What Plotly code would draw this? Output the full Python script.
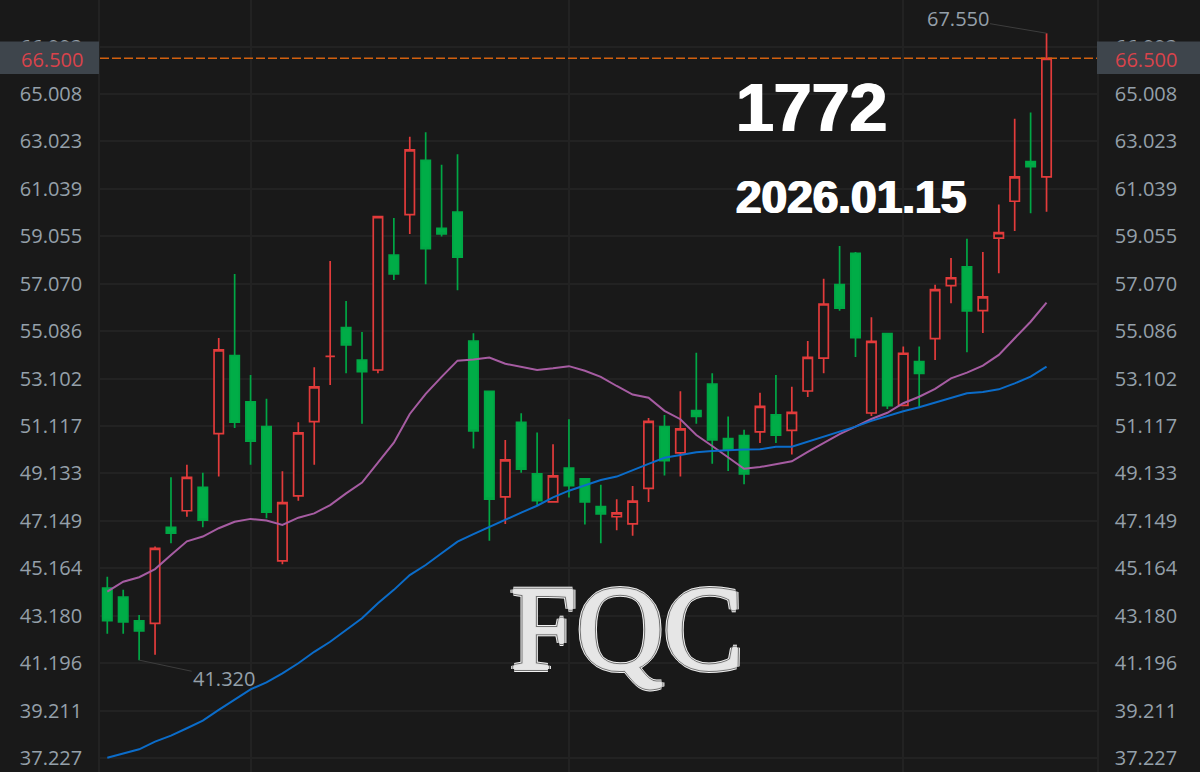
import plotly.graph_objects as go

tick_vals = [37.227, 39.211, 41.196, 43.180, 45.164, 47.149, 49.133, 51.117, 53.102, 55.086,
             57.070, 59.055, 61.039, 63.023, 65.008, 66.993]
tick_text = ["37.227", "39.211", "41.196", "43.180", "45.164", "47.149", "49.133", "51.117", "53.102", "55.086",
             "57.070", "59.055", "61.039", "63.023", "65.008", "66.993"]

opens = [44.33, 43.96, 42.96, 42.86, 46.88, 47.57, 48.55, 50.80, 54.06, 52.13,
         51.09, 45.47, 48.19, 51.30, 54.03, 55.23, 53.87, 53.46, 58.27, 59.96,
         62.23, 59.39, 60.07, 54.67, 52.57, 48.15, 51.27, 49.11, 47.94, 49.35,
         48.91, 47.74, 47.32, 47.02, 48.51, 51.09, 49.99, 51.76, 52.87, 50.59,
         50.71, 50.87, 51.58, 50.93, 52.58, 53.96, 57.03, 58.34, 51.66, 54.98,
         51.98, 53.81, 54.77, 56.99, 57.77, 55.94, 58.98, 60.52, 62.18, 61.54]
highs = [44.81, 44.26, 43.21, 46.07, 48.97, 49.49, 49.16, 54.80, 57.48, 53.25,
         52.26, 49.22, 51.27, 53.57, 58.02, 56.35, 55.05, 59.90, 59.82, 63.22,
         63.41, 62.05, 62.49, 55.00, 52.57, 50.53, 51.65, 50.84, 50.35, 51.40,
         48.91, 48.66, 48.05, 48.61, 51.45, 51.58, 52.57, 54.18, 53.32, 51.51,
         50.96, 52.51, 53.25, 52.76, 54.67, 57.28, 58.65, 58.40, 55.67, 54.98,
         54.44, 54.44, 57.03, 58.15, 58.95, 58.40, 60.38, 63.97, 64.23, 67.55]
lows = [42.42, 42.42, 41.32, 41.55, 46.21, 47.32, 46.88, 49.00, 51.03, 49.49,
        47.26, 45.33, 47.99, 49.49, 52.83, 53.32, 51.21, 53.32, 57.23, 59.15,
        57.05, 59.04, 56.80, 50.17, 46.32, 47.02, 49.16, 47.77, 47.94, 48.12,
        47.00, 46.21, 46.75, 46.52, 47.94, 49.05, 49.00, 51.21, 49.54, 49.23,
        48.68, 50.41, 50.41, 49.92, 52.33, 53.32, 55.94, 54.00, 51.54, 51.83,
        51.98, 51.86, 53.88, 56.25, 54.20, 55.01, 57.51, 59.28, 60.02, 60.08]
closes = [42.97, 42.92, 42.54, 46.00, 46.63, 48.97, 47.18, 54.30, 51.28, 50.48,
          47.51, 47.91, 50.83, 52.75, 54.03, 54.51, 53.39, 59.88, 57.48, 62.67,
          58.54, 59.15, 58.18, 50.91, 48.06, 49.70, 49.31, 47.99, 49.03, 48.62,
          47.94, 47.44, 47.48, 47.97, 51.31, 49.67, 51.00, 51.52, 50.53, 50.11,
          49.11, 51.94, 50.73, 51.69, 53.99, 56.22, 56.05, 54.81, 54.66, 51.97,
          54.16, 53.32, 56.82, 57.32, 55.93, 56.52, 59.21, 61.54, 61.97, 66.50]
ma_fast = [44.19, 44.60, 44.79, 45.13, 45.72, 46.29, 46.49, 46.84, 47.11, 47.23,
           47.16, 46.98, 47.28, 47.46, 47.81, 48.30, 48.75, 49.57, 50.42, 51.62,
           52.46, 53.17, 53.85, 53.90, 53.98, 53.72, 53.59, 53.46, 53.53, 53.62,
           53.43, 53.17, 52.79, 52.43, 52.30, 51.75, 51.40, 50.74, 50.28, 49.81,
           49.33, 49.40, 49.52, 49.64, 50.03, 50.41, 50.78, 51.09, 51.41, 51.67,
           52.07, 52.34, 52.67, 53.11, 53.35, 53.64, 54.09, 54.79, 55.48, 56.28]
ma_slow = [37.24, 37.41, 37.59, 37.91, 38.16, 38.47, 38.79, 39.24, 39.68, 40.10,
           40.39, 40.77, 41.19, 41.67, 42.09, 42.58, 43.07, 43.70, 44.26, 44.88,
           45.30, 45.79, 46.28, 46.59, 46.90, 47.18, 47.49, 47.78, 48.13, 48.41,
           48.62, 48.86, 49.00, 49.28, 49.53, 49.79, 49.89, 50.02, 50.07, 50.11,
           50.13, 50.14, 50.25, 50.25, 50.46, 50.64, 50.87, 51.09, 51.33, 51.54,
           51.73, 51.90, 52.09, 52.30, 52.49, 52.54, 52.65, 52.90, 53.18, 53.60]
x_index = list(range(len(opens)))
last_price = 66.50
high_mark = (59, 67.55)
low_mark = (2, 41.32)
vertical_grid = [9, 29, 50]

BG = "#191919"
GRID = "#222222"
TICK = "#95a0aa"
FONT = "Open Sans, Noto Sans, sans-serif"


def px(x):
    return (x - 100) / 997


def py(y):
    return 1 - y / 772


def ring(radius, colour):
    return ", ".join(f"{dx}px {dy}px 0 {colour}" for dx, dy in
                     [(radius, 0), (-radius, 0), (0, radius), (0, -radius)])


fig = go.Figure()
fig.add_trace(go.Candlestick(
    x=x_index, open=opens, high=highs, low=lows, close=closes,
    increasing=dict(line=dict(color="#e23b3b", width=1.7), fillcolor=BG),
    decreasing=dict(line=dict(color="#00a745", width=1.7), fillcolor="#00ad47"),
    whiskerwidth=0, showlegend=False, hoverinfo="skip",
))
fig.add_trace(go.Scatter(x=x_index, y=ma_fast, mode="lines", showlegend=False, hoverinfo="skip",
                         line=dict(color="#a65ca2", width=2)))
fig.add_trace(go.Scatter(x=x_index, y=ma_slow, mode="lines", showlegend=False, hoverinfo="skip",
                         line=dict(color="#0b6cc9", width=2)))
# invisible trace that binds the right-hand price scale
fig.add_trace(go.Scatter(x=[0], y=[last_price], yaxis="y2", mode="markers", marker=dict(opacity=0),
                         showlegend=False, hoverinfo="skip"))

y_range = [36.64, 68.94]
axis_common = dict(range=y_range, tickmode="array", tickvals=tick_vals, ticktext=tick_text,
                   tickfont=dict(family=FONT, size=20, color=TICK), ticks="outside", ticklen=12,
                   tickcolor="rgba(0,0,0,0)", showline=True, linecolor=GRID, linewidth=1.5, zeroline=False)
logo_shadow = ", ".join([ring(1, "#e2e2e2"), ring(2, "#707070"), ring(3, "#f2f2f2")])
fig.update_layout(
    width=1200, height=772, autosize=False,
    margin=dict(l=100, r=103, t=0, b=0),
    paper_bgcolor=BG, plot_bgcolor=BG, boxgap=0.16, showlegend=False,
    xaxis=dict(range=[-0.4585, 62.17], tickmode="array", tickvals=vertical_grid, showticklabels=False,
               ticks="", showgrid=True, gridcolor=GRID, gridwidth=1.5, zeroline=False,
               rangeslider=dict(visible=False), showline=False),
    yaxis=dict(side="left", showgrid=True, gridcolor=GRID, gridwidth=1.5, **axis_common),
    yaxis2=dict(side="right", overlaying="y", showgrid=False, **axis_common),
    shapes=[
        dict(type="rect", xref="paper", yref="paper", x0=px(0), x1=px(99), y0=py(74), y1=py(41.5),
             fillcolor="#3e454c", line=dict(width=0), layer="above"),
        dict(type="rect", xref="paper", yref="paper", x0=px(1097), x1=px(1200), y0=py(74), y1=py(41.5),
             fillcolor="#3e454c", line=dict(width=0), layer="above"),
        dict(type="line", xref="paper", yref="y", x0=0, x1=1, y0=last_price, y1=last_price,
             line=dict(color="#d2600f", width=1.5, dash="9px,3px"), layer="above"),
    ],
    annotations=[
        dict(xref="paper", yref="paper", x=px(84.5), y=py(59), xanchor="right", yanchor="middle", showarrow=False,
             text="66.500", font=dict(family=FONT, size=20, color="#d9434b")),
        dict(xref="paper", yref="paper", x=px(1113), y=py(59), xanchor="left", yanchor="middle", showarrow=False,
             text="66.500", font=dict(family=FONT, size=20, color="#d9434b")),
        dict(x=low_mark[0], y=low_mark[1], xref="x", yref="y", ax=85, ay=18, text="41.320", showarrow=True,
             arrowhead=0, arrowwidth=1, arrowcolor="#3d3d3d", standoff=0,
             font=dict(family=FONT, size=20, color=TICK)),
        dict(x=high_mark[0], y=high_mark[1], xref="x", yref="y", ax=-89, ay=-15, text="67.550", showarrow=True,
             arrowhead=0, arrowwidth=1, arrowcolor="#3d3d3d", standoff=0,
             font=dict(family=FONT, size=20, color=TICK)),
        dict(xref="paper", yref="paper", x=px(811.5), y=py(107), xanchor="center", yanchor="middle", showarrow=False,
             text="<b>1772</b>", font=dict(family="Liberation Sans", size=68, color="#ffffff",
                                           shadow="1px 0 0 #fff, -1px 0 0 #fff")),
        dict(xref="paper", yref="paper", x=px(850.5), y=py(197), xanchor="center", yanchor="middle", showarrow=False,
             text="<b>2026.01.15</b>", font=dict(family="Liberation Sans", size=46, color="#ffffff",
                                                 shadow="1px 0 0 #fff, -1px 0 0 #fff")),
        dict(xref="paper", yref="paper", x=px(626), y=py(628), xanchor="center", yanchor="middle", showarrow=False,
             text="FQC", font=dict(family="Liberation Serif", size=120, color="#e6e6e6", shadow=logo_shadow)),
    ],
)
fig.write_html("out.html", config={"displayModeBar": False},
               post_script="document.body.style.margin='0';document.body.style.background='#191919';")
